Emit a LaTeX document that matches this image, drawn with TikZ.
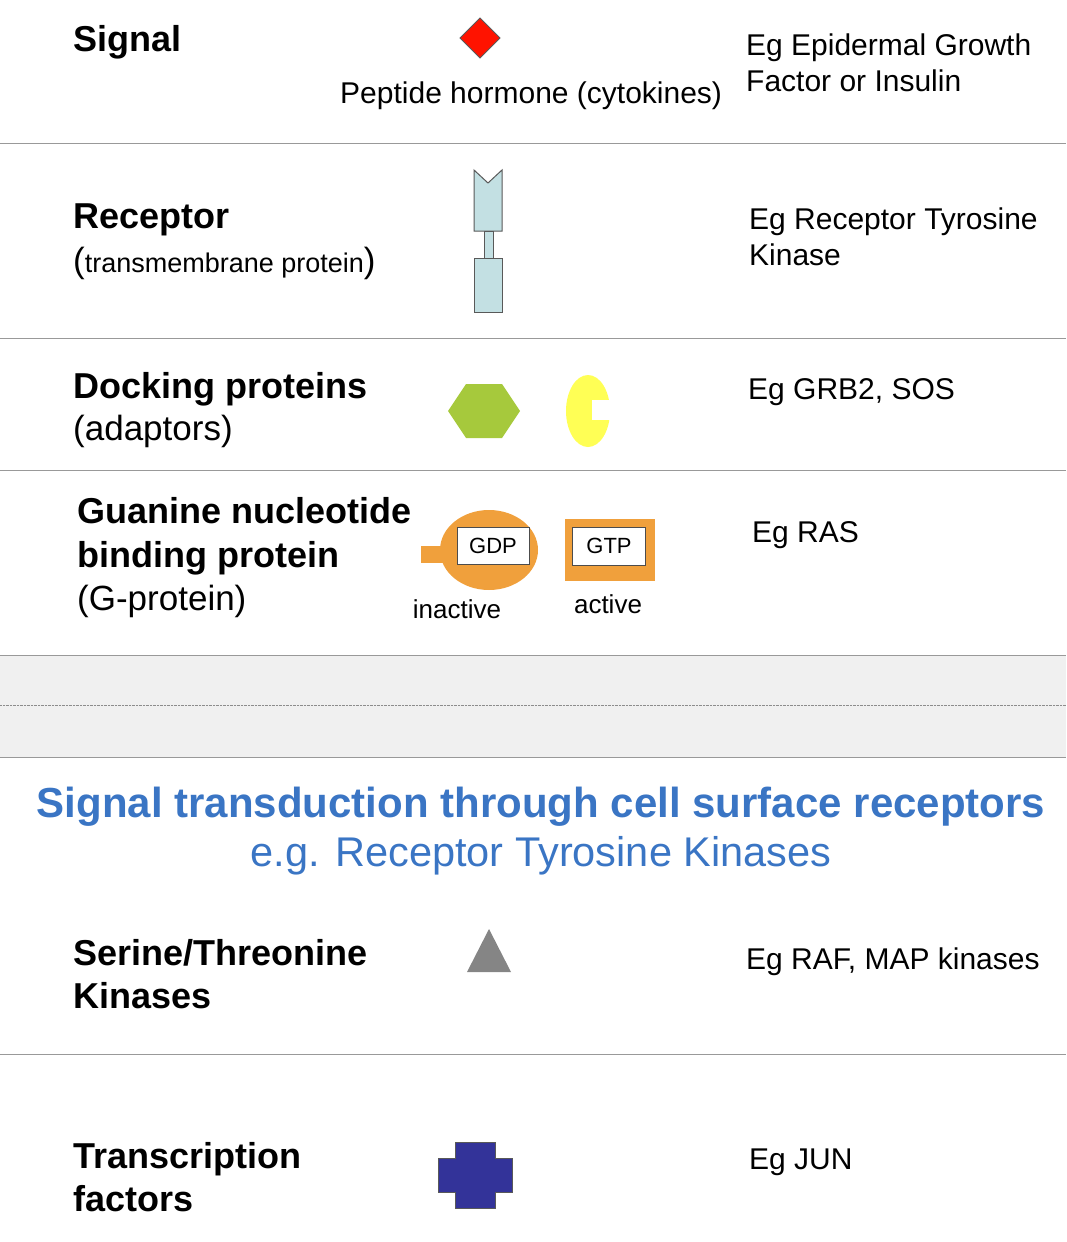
\documentclass[tikz,border=0pt]{standalone}
\usepackage{fontspec}
\setmainfont{Liberation Sans}
\begin{document}
\begin{tikzpicture}[x=1pt,y=-1pt,
  body/.style={anchor=base west,inner sep=0pt,font=\fontsize{30}{34}\selectfont},
  big/.style={anchor=base west,inner sep=0pt,font=\fontsize{35}{38}\selectfont},
  ttl/.style={anchor=base west,inner sep=0pt,font=\fontsize{36}{40}\selectfont\bfseries},
  sep/.style={draw=black!40,line width=1pt},
  mol/.style={draw=black!65,line width=1pt}]
\useasboundingbox (0,0) rectangle (1066,1242);
\definecolor{rec}{HTML}{C3E0E3}\definecolor{hex}{HTML}{A6C93C}
\definecolor{yel}{HTML}{FFFF55}\definecolor{org}{HTML}{F0A03C}
\definecolor{navy}{HTML}{333399}\definecolor{blu}{HTML}{3A75C4}
% separators
\draw[sep] (0,143) -- (1066,143);
\draw[sep] (0,338) -- (1066,338);
\draw[sep] (0,470) -- (1066,470);
\fill[black!6] (0,655) rectangle (1066,757);
\draw[sep] (0,655) -- (1066,655);
\draw[sep] (0,757) -- (1066,757);
\draw[black!45,densely dotted] (0,705) -- (1066,705);
\draw[sep] (0,1054) -- (1066,1054);
% row 1
\node[ttl] (t1) at (73,51) {Signal};
\node[body] (p1) at (340,103) {Peptide hormone (cytokines)};
\node[body] (e1) at (746,55) {Eg Epidermal Growth};
\node[body] (e1b) at (746,91) {Factor or Insulin};
\draw[mol,fill=red!85!orange] (480,18) -- (500,38) -- (480,58) -- (460,38) -- cycle;
% row 2
\node[ttl] (t2) at (73,228) {Receptor};
\node[anchor=base west,inner sep=0pt,font=\fontsize{27}{30}\selectfont] (t2b) at (73,272) {{\fontsize{35}{38}\selectfont(}transmembrane protein{\fontsize{35}{38}\selectfont)}};
\node[body] (e2) at (749,229) {Eg Receptor Tyrosine};
\node[body] (e2b) at (749,265) {Kinase};
\draw[mol,fill=rec] (474,170) -- (488,183) -- (502,170) -- (502,231) -- (474,231) -- cycle;
\draw[mol,fill=rec] (484,231) rectangle (493,258);
\draw[mol,fill=rec] (474,258) rectangle (502,312);
% row 3
\node[ttl] (t3) at (73,398) {Docking proteins};
\node[big] (t3b) at (73,440) {(adaptors)};
\node[body] (e3) at (748,399) {Eg GRB2, SOS};
\fill[hex] (448,411) -- (466,384) -- (502,384) -- (520,411) -- (502,438) -- (466,438) -- cycle;
\fill[yel] (588,411) ellipse [x radius=22,y radius=36];
\fill[white] (592,400) rectangle (612,420);
% row 4
\node[ttl] (t4) at (77,523) {Guanine nucleotide};
\node[ttl] (t4b) at (77,567) {binding protein};
\node[big] (t4c) at (77,610) {(G-protein)};
\node[body] (e4) at (752,542) {Eg RAS};
\fill[org] (421,546) rectangle (446,563);
\fill[org] (489,550) ellipse [x radius=49,y radius=40];
\node[draw=black!70,fill=white,line width=1pt,minimum width=72,minimum height=37,inner sep=0pt,font=\fontsize{22}{24}\selectfont] (gdp) at (493,546) {GDP};
\node[anchor=base,inner sep=0pt,font=\fontsize{26}{30}\selectfont] (ina) at (457,618) {inactive};
\fill[org] (565,519) rectangle (655,581);
\node[draw=black!70,fill=white,line width=1pt,minimum width=73,minimum height=38,inner sep=0pt,font=\fontsize{22}{24}\selectfont] (gtp) at (609,546) {GTP};
\node[anchor=base,inner sep=0pt,font=\fontsize{26}{30}\selectfont] (act) at (608,613) {active};
% title
\node[anchor=base,inner sep=0pt,text=blu,font=\fontsize{42}{46}\selectfont\bfseries] (h1) at (541,817) {Signal transduction through cell surface receptors};
\node[anchor=base,inner sep=0pt,text=blu,font=\fontsize{41.5}{46}\selectfont] (h2) at (541,866) {e.g. Receptor Tyrosine Kinases};
% row 5
\node[ttl] (t5) at (73,965) {Serine/Threonine};
\node[ttl] (t5b) at (73,1008) {Kinases};
\node[body] (e5) at (746,969) {Eg RAF, MAP kinases};
\fill[black!48] (489,929) -- (511,972) -- (467,972) -- cycle;
% row 6
\node[ttl] (t6) at (73,1168) {Transcription};
\node[ttl] (t6b) at (73,1211) {factors};
\node[body] (e6) at (749,1169) {Eg JUN};
\draw[mol,fill=navy] (455,1142) -- (495,1142) -- (495,1158) -- (512,1158) -- (512,1192) -- (495,1192) -- (495,1208) -- (455,1208) -- (455,1192) -- (438,1192) -- (438,1158) -- (455,1158) -- cycle;
\end{tikzpicture}
\end{document}
